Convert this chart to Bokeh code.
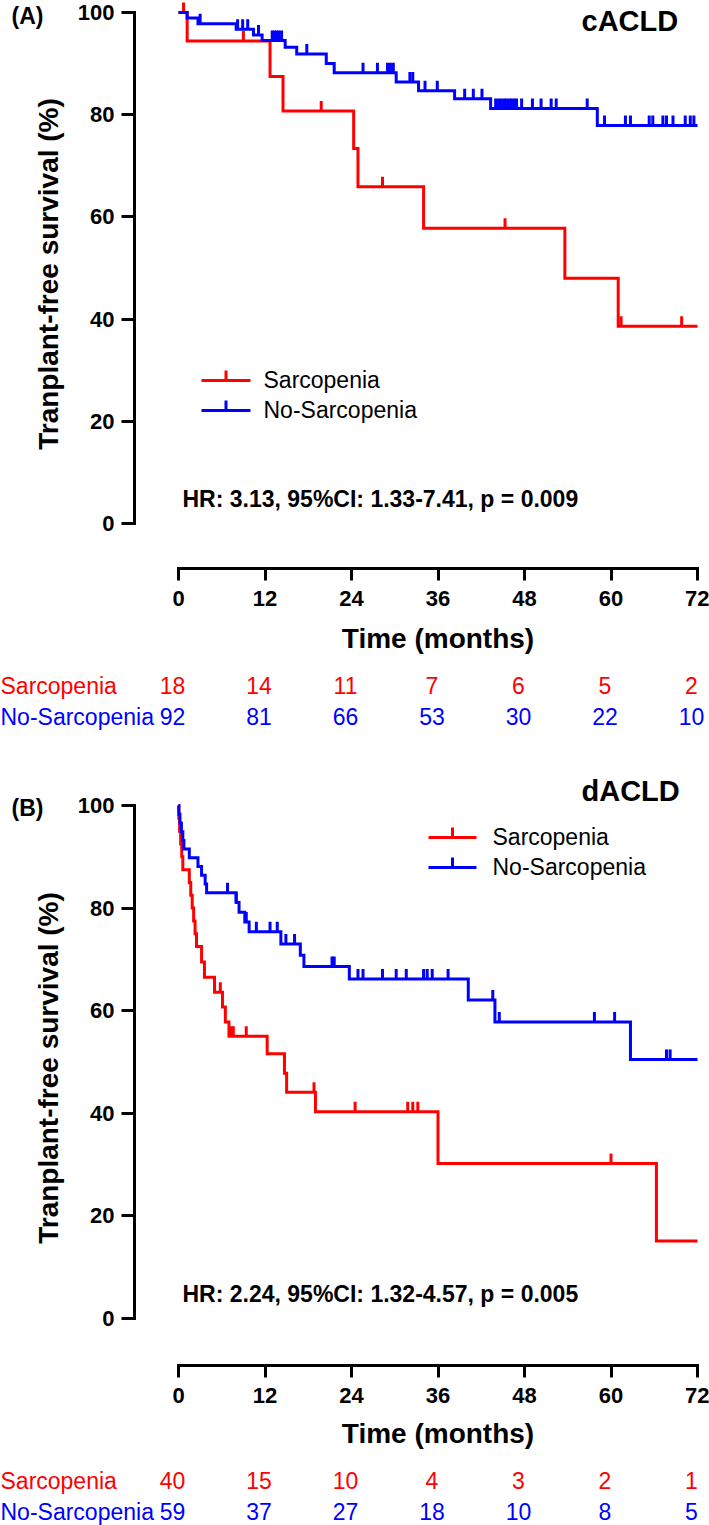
import math
from bokeh.plotting import figure
from bokeh.models import ColumnDataSource, Label, LabelSet, FixedTicker, Range1d
from bokeh.layouts import column
from bokeh.embed import file_html
from bokeh.resources import INLINE
from bokeh.core.properties import value

# ---------------- data ----------------
risk_times = [0, 12, 24, 36, 48, 60, 72]
y_ticks = [0, 20, 40, 60, 80, 100]
group_names = ["Sarcopenia", "No-Sarcopenia"]

# Panel A (cACLD): event times (months) and survival (%) after each event; censor times
a_sarc_t = [1.2, 12.7, 14.5, 24.3, 24.9, 34.0, 53.6, 61.0]
a_sarc_s = [94.4, 87.5, 80.7, 73.4, 65.9, 57.8, 48.0, 38.6]
a_sarc_cens = [0.7, 9.0, 19.8, 28.3, 45.3, 61.4, 69.8]

a_nosarc_t = [1.2, 2.7, 8.0, 10.4, 11.6, 14.8, 16.4, 20.5, 21.6, 30.2, 33.3, 38.3, 43.3, 58.1]
a_nosarc_s = [98.9, 97.8, 96.7, 95.6, 94.5, 93.2, 91.9, 90.0, 88.2, 86.4, 84.7, 83.1, 81.2, 77.9]
a_nosarc_cens = [3.0, 8.2, 8.9, 9.6, 11.1, 13.0, 13.3, 13.6, 13.9, 14.3, 17.8, 25.6, 27.6,
                 29.0, 29.4, 29.8, 32.1, 32.5, 34.2, 35.9, 39.7, 40.9, 42.1, 44.0, 44.4,
                 44.8, 45.2, 45.5, 45.9, 46.2, 46.6, 46.9, 47.6, 49.1, 50.3, 51.7, 52.4,
                 56.7, 59.1, 62.0, 62.7, 65.3, 65.8, 67.2, 67.7, 68.6, 70.3, 71.0, 71.5]

a_risk_sarc = [18, 14, 11, 7, 6, 5, 2]
a_risk_nosarc = [92, 81, 66, 53, 30, 22, 10]
a_hr = "HR: 3.13, 95%CI: 1.33-7.41, p = 0.009"

# Panel B (dACLD)
b_sarc_t = [0.05, 0.15, 0.3, 0.45, 0.6, 1.5, 1.7, 1.9, 2.1, 2.3, 2.5, 3.2, 3.6, 5.0,
            6.1, 6.5, 7.0, 12.3, 14.7, 15.0, 19.0, 36.0, 66.3]
b_sarc_s = [97.5, 95.0, 92.5, 90.0, 87.5, 85.0, 82.5, 80.0, 77.5, 75.0, 72.5, 69.5, 66.5,
            63.6, 60.7, 57.8, 55.0, 51.6, 47.8, 44.1, 40.3, 30.2, 15.1]
b_sarc_cens = [5.8, 7.3, 7.6, 9.4, 18.8, 24.5, 31.8, 32.5, 33.2, 60.0]

b_nosarc_t = [0.05, 0.2, 0.4, 0.6, 0.75, 1.5, 2.7, 3.2, 3.7, 3.9, 8.0, 8.4, 9.2, 9.8,
              14.2, 16.9, 17.4, 23.7, 40.2, 43.9, 62.7]
b_nosarc_s = [98.3, 96.6, 94.9, 93.2, 91.5, 89.8, 88.1, 86.4, 84.7, 83.0, 81.1, 79.2,
              77.3, 75.4, 73.0, 70.8, 68.6, 66.2, 62.1, 57.8, 50.5]
b_nosarc_cens = [6.8, 8.0, 9.4, 10.8, 12.7, 13.7, 14.9, 16.1, 21.3, 21.6, 24.9, 25.6,
                 28.3, 30.2, 31.6, 34.0, 34.5, 35.2, 37.4, 43.6, 44.5, 57.7, 60.5, 67.7, 68.2]

b_risk_sarc = [40, 15, 10, 4, 3, 2, 1]
b_risk_nosarc = [59, 37, 27, 18, 10, 8, 5]
b_hr = "HR: 2.24, 95%CI: 1.32-4.57, p = 0.005"

# ---------------- styling / layout ----------------
FONT = "Liberation Sans"
RED, BLUE = "#ff0000", "#0000ff"
T_END = 72
PAGE_W = 709
X_ZERO, X_72 = 178, 697          # page x of t=0 and t=72
Y_AXIS_X = 134                   # page x of the (offset) y axis
KX = (X_72 - X_ZERO) / 72.0


def xdata(px):
    return (px - X_ZERO) / KX


def level(t, ev_t, ev_s):
    s = 100.0
    for et, es in zip(ev_t, ev_s):
        if et <= t:
            s = es
    return s


def lab(p, x, y, text, size, bold=False, align="left", color="black", angle=0.0):
    p.add_layout(Label(x=x, y=y, text=text, text_font=FONT, text_font_size=size,
                       text_font_style="bold" if bold else "normal",
                       text_baseline="middle", text_align=align,
                       text_color=color, angle=angle))


def panel(cfg):
    ky = (cfg["y0"] - cfg["y100"]) / 100.0

    def ydata(py):
        return (cfg["y0"] - py) / ky

    tick_len = 10 / ky
    p = figure(width=PAGE_W, height=cfg["fig_bottom"] - cfg["fig_top"],
               x_range=Range1d(xdata(0), xdata(PAGE_W)),
               y_range=Range1d(ydata(cfg["fig_bottom"]), ydata(cfg["fig_top"])),
               min_border_left=0, min_border_right=0, min_border_top=0, min_border_bottom=0,
               output_backend="svg", toolbar_location=None, title=None)
    p.grid.visible = False
    p.outline_line_color = None
    p.background_fill_color = "white"
    p.border_fill_color = "white"

    p.xaxis.fixed_location = ydata(cfg["xaxis_y"])
    p.yaxis.fixed_location = xdata(Y_AXIS_X)
    for ax, ticks, bnds, tout, stand in ((p.xaxis, risk_times, (0, 72), 12, 10),
                                         (p.yaxis, y_ticks, (0, 100), 13, 7)):
        ax.bounds = bnds
        ax.ticker = FixedTicker(ticks=ticks)
        ax.axis_line_width = 3
        ax.axis_line_color = "black"
        ax.axis_line_cap = "square"
        ax.major_tick_line_width = 3
        ax.major_tick_line_color = "black"
        ax.major_tick_out = tout
        ax.major_tick_in = 0
        ax.minor_tick_line_color = None
        ax.major_label_standoff = stand
        ax.major_label_text_font = FONT
        ax.major_label_text_font_size = "22px"
        ax.major_label_text_font_style = "bold"
        ax.major_label_text_color = "black"

    # survival curves with censor ticks
    for ev_t, ev_s, cens, col in cfg["curves"]:
        xs = [0] + ev_t + [T_END]
        ys = [100] + ev_s + [ev_s[-1]]
        p.step(x=xs, y=ys, mode="after", line_color=col, line_width=3, line_join="miter")
        cy = [level(t, ev_t, ev_s) for t in cens]
        p.segment(x0=cens, y0=cy, x1=cens, y1=[v + tick_len for v in cy],
                  line_color=col, line_width=3)

    # legend (line with censor tick + group name)
    lx0, lx1, ltx = xdata(cfg["leg_x0"]), xdata(cfg["leg_x1"]), xdata(cfg["leg_tx"])
    for name, col, py in zip(group_names, (RED, BLUE), cfg["leg_y"]):
        yy = ydata(py)
        mid = (lx0 + lx1) / 2
        p.segment(x0=[lx0], y0=[yy], x1=[lx1], y1=[yy], line_color=col, line_width=3)
        p.segment(x0=[mid], y0=[yy], x1=[mid], y1=[yy + tick_len], line_color=col, line_width=3)
        lab(p, ltx, ydata(py - 1), name, "23px")

    # panel letter, cohort tag, HR text
    lab(p, xdata(11), ydata(cfg["letter_y"]), cfg["letter"], "23px", bold=True)
    lab(p, xdata(581), ydata(cfg["tag_y"]), cfg["tag"], "29px", bold=True)
    lab(p, xdata(182), ydata(cfg["hr_y"]), cfg["hr"], "23px", bold=True)

    # axis titles
    lab(p, xdata(48), ydata((cfg["y0"] + cfg["y100"]) / 2 + 6), "Tranplant-free survival (%)",
        "28px", bold=True, align="center", angle=math.pi / 2)
    lab(p, 36, ydata(cfg["xtitle_y"]), "Time (months)", "28px", bold=True, align="center")

    # numbers at risk
    for name, col, counts, py in zip(group_names, (RED, BLUE), cfg["risk"], cfg["risk_y"]):
        yy = ydata(py)
        lab(p, xdata(0), yy, name, "23px", color=col)
        src = ColumnDataSource(dict(t=risk_times, n=[str(v) for v in counts]))
        p.add_layout(LabelSet(x="t", y=yy, text="n", source=src, x_offset=-6,
                              text_font=value(FONT), text_font_size=value("23px"),
                              text_color=col, text_align="center", text_baseline="middle"))
    return p


cfg_a = dict(fig_top=0, fig_bottom=775, y100=12, y0=523, xaxis_y=568,
             curves=[(a_sarc_t, a_sarc_s, a_sarc_cens, RED),
                     (a_nosarc_t, a_nosarc_s, a_nosarc_cens, BLUE)],
             leg_x0=201, leg_x1=250, leg_tx=263, leg_y=(380, 410),
             letter="(A)", letter_y=15, tag="cACLD", tag_y=20, hr=a_hr, hr_y=498,
             xtitle_y=638, risk=(a_risk_sarc, a_risk_nosarc), risk_y=(685, 716))

cfg_b = dict(fig_top=775, fig_bottom=1525, y100=805, y0=1318, xaxis_y=1365,
             curves=[(b_sarc_t, b_sarc_s, b_sarc_cens, RED),
                     (b_nosarc_t, b_nosarc_s, b_nosarc_cens, BLUE)],
             leg_x0=428, leg_x1=476, leg_tx=492, leg_y=(837, 867),
             letter="(B)", letter_y=807, tag="dACLD", tag_y=790, hr=b_hr, hr_y=1293,
             xtitle_y=1433, risk=(b_risk_sarc, b_risk_nosarc), risk_y=(1480, 1511))

pa = panel(cfg_a)
pb = panel(cfg_b)
layout = column(pa, pb, spacing=0)

open("out.html", "w").write(file_html(layout, INLINE))
